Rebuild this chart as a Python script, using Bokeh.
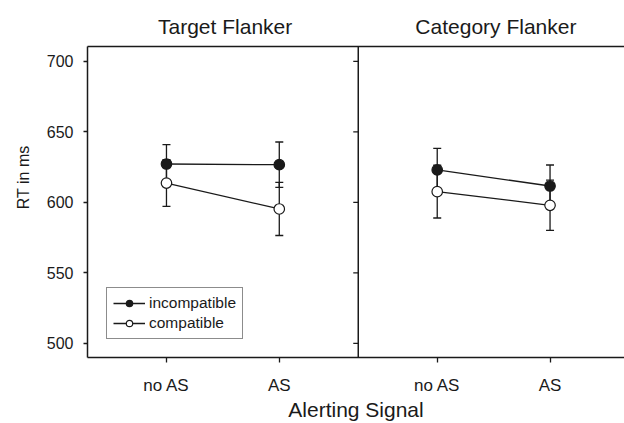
import numpy as np
from bokeh.plotting import figure
from bokeh.models import (ColumnDataSource, Range1d, FixedTicker, LinearAxis, Span,
                          Whisker, TeeHead, Legend, LegendItem, Title)
from bokeh.embed import file_html
from bokeh.resources import INLINE

# ---- data ----
conditions = ["no AS", "AS"]
panels = ["Target Flanker", "Category Flanker"]
target_incompatible = [627.2, 626.7]
target_incompatible_err = [13.7, 16.1]
target_compatible = [613.7, 595.3]
target_compatible_err = [16.5, 18.8]
category_incompatible = [623.0, 611.6]
category_incompatible_err = [15.3, 14.9]
category_compatible = [607.6, 597.9]
category_compatible_err = [18.7, 17.8]
y_ticks = [500, 550, 600, 650, 700]
y_label = "RT in ms"
x_label = "Alerting Signal"

FONT = "Liberation Sans"
INK = "#1a1a1a"
W, H = 624, 423
TOP, BOTTOM, LEFT = 46, 66, 87
Y_LO, Y_HI = 490, 710.5

# panel layout on one numeric x axis
panel_start = [1.0, 3.4]
divider = 2.7
x_lo, x_hi = 0.3, 5.06

p = figure(width=W, height=H, output_backend="svg", toolbar_location=None,
           x_range=Range1d(x_lo, x_hi), y_range=Range1d(Y_LO, Y_HI),
           min_border_left=LEFT, min_border_right=0, min_border_top=TOP,
           min_border_bottom=BOTTOM, x_axis_label=x_label)
p.outline_line_color = None
p.grid.visible = False

for ax in (p.xaxis[0], p.yaxis[0]):
    ax.axis_line_color = INK
    ax.axis_line_width = 1.5
    ax.major_tick_line_color = INK
    ax.major_tick_line_width = 1.3
    ax.minor_tick_line_color = None
    ax.major_tick_in = 0
    ax.major_label_text_font = FONT
    ax.major_label_text_color = INK

p.yaxis[0].ticker = FixedTicker(ticks=y_ticks)
p.yaxis[0].major_tick_out = 4
p.yaxis[0].major_label_standoff = 10
p.yaxis[0].major_label_text_font_size = "16px"

# y-axis label as a side title, its top end placed 99 px below the frame top
p.add_layout(Title(text=y_label, align="right", offset=99, standoff=23,
                   text_font=FONT, text_font_style="normal", text_font_size="16px",
                   text_color=INK), "left")

xticks = []
labels = {}
for s in panel_start:
    for i, c in enumerate(conditions):
        xticks.append(s + i)
        labels[s + i] = c
p.xaxis[0].ticker = FixedTicker(ticks=xticks)
p.xaxis[0].major_label_overrides = labels
p.xaxis[0].major_label_text_font_size = "17px"
p.xaxis[0].major_tick_out = 5
p.xaxis[0].major_label_standoff = 13
p.xaxis[0].axis_label_text_font = FONT
p.xaxis[0].axis_label_text_font_style = "normal"
p.xaxis[0].axis_label_text_font_size = "21px"
p.xaxis[0].axis_label_text_color = INK
p.xaxis[0].axis_label_standoff = 0

# top border carrying the two panel titles
title_x = [s + (len(conditions) - 1) / 2 + 0.02 for s in panel_start]
top = LinearAxis(axis_line_color=INK, axis_line_width=1.5,
                 major_tick_line_color=None, minor_tick_line_color=None,
                 major_tick_out=0, major_tick_in=0,
                 ticker=FixedTicker(ticks=title_x),
                 major_label_overrides={tx: panels[k] for k, tx in enumerate(title_x)},
                 major_label_standoff=9, major_label_text_font=FONT,
                 major_label_text_font_size="21px", major_label_text_color=INK)
p.add_layout(top, "above")

# divider between panels, with outward ticks
p.add_layout(Span(location=divider, dimension="height", line_color=INK, line_width=1.5))
p.ray(x=[divider] * len(y_ticks), y=y_ticks, length=5, length_units="screen",
      angle=np.pi, line_color=INK, line_width=1.3)

series = [
    ("incompatible", [target_incompatible, category_incompatible],
     [target_incompatible_err, category_incompatible_err], INK),
    ("compatible", [target_compatible, category_compatible],
     [target_compatible_err, category_compatible_err], "white"),
]

legend_items = []
for name, vals, errs, fill in series:
    first = None
    for k, s in enumerate(panel_start):
        xs = [s + i for i in range(len(conditions))]
        v = np.array(vals[k]); e = np.array(errs[k])
        src = ColumnDataSource(dict(x=xs, y=v, upper=v + e, lower=v - e))
        w = Whisker(source=src, base="x", upper="upper", lower="lower",
                    line_color=INK, line_width=1.3, level="underlay",
                    upper_head=TeeHead(size=8, line_color=INK, line_width=1.3),
                    lower_head=TeeHead(size=8, line_color=INK, line_width=1.3))
        p.add_layout(w)
        lr = p.line("x", "y", source=src, line_color=INK, line_width=1.3)
        sr = p.scatter("x", "y", source=src, size=10.5, fill_color=fill,
                       line_color=INK, line_width=1.2)
        if first is None:
            first = [lr, sr]
    legend_items.append(LegendItem(label=name, renderers=first))

legend = Legend(items=legend_items, location=(19, 18), border_line_color=INK,
                border_line_width=1.2, label_text_font=FONT, label_text_font_size="15.5px",
                label_text_color=INK, glyph_width=32, glyph_height=16,
                label_standoff=4, spacing=2, padding=6, margin=0,
                label_height=16, background_fill_alpha=1)
p.add_layout(legend, "center")

open("out.html", "w").write(file_html(p, INLINE))
